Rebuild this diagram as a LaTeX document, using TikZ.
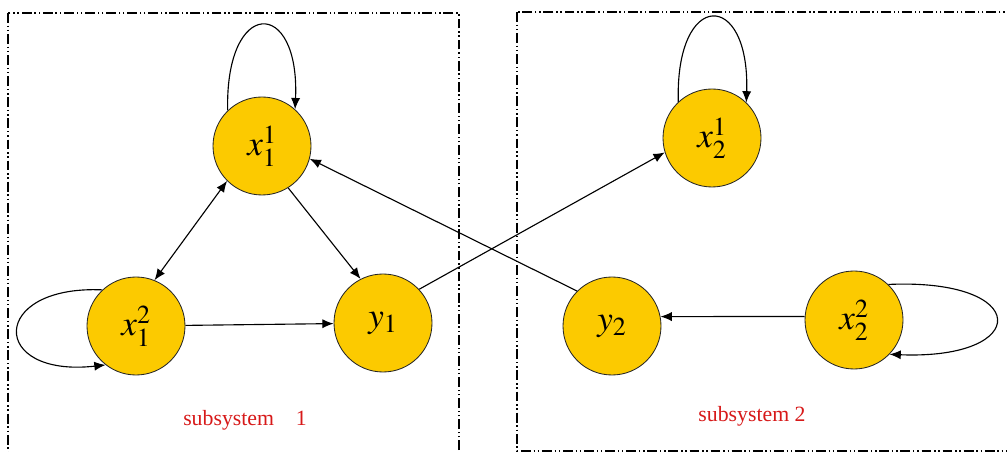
\documentclass[tikz,border=0pt]{standalone}
\usepackage{mathptmx}
\usepackage{fontspec}
\setmainfont{Liberation Serif}
\usetikzlibrary{arrows.meta}
\pgfdeclarelayer{edgelayer}
\pgfdeclarelayer{nodelayer}
\pgfsetlayers{edgelayer,nodelayer,main}
\definecolor{nodeyellow}{RGB}{252,202,0}
\definecolor{labelred}{RGB}{215,25,25}
\tikzstyle{none}=[inner sep=0pt]
\tikzstyle{state}=[circle,fill=nodeyellow,draw=black!85,line width=0.6pt,minimum size=2.45cm,inner sep=0pt,font=\fontsize{25}{27}\selectfont]
\tikzstyle{transition}=[-{Latex[length=8pt,width=6.5pt]},draw=black,line width=0.8pt]
\tikzstyle{twoway}=[{Latex[length=8pt,width=6.5pt]}-{Latex[length=8pt,width=6.5pt]},draw=black,line width=0.8pt]
\tikzstyle{syslabel}=[inner sep=0pt,text=labelred,font=\fontsize{15.5}{17}\selectfont]
\tikzstyle{subbox}=[draw=black,line width=0.9pt,dash pattern=on 7pt off 2pt on 1pt off 2pt on 1pt off 2pt]

\begin{document}
\begin{tikzpicture}
	\useasboundingbox (0,0) rectangle (25.175,-11.3);
	\begin{pgfonlayer}{nodelayer}
		\node [style=state] (0) at (6.55, -3.65) {$x_1^1$};
		\node [style=state] (1) at (3.4, -8.15) {$x_1^2$};
		\node [style=state] (2) at (9.575, -8.075) {$y_1$};
		\node [style=state] (3) at (17.8, -3.45) {$x_2^1$};
		\node [style=state] (4) at (15.3, -8.15) {$y_2$};
		\node [style=state] (5) at (21.35, -8.0) {$x_2^2$};
		\node [style=syslabel] (6) at (6.125, -10.5) {subsystem\quad 1};
		\node [style=syslabel] (7) at (18.8, -10.4) {subsystem 2};
	\end{pgfonlayer}
	\begin{pgfonlayer}{edgelayer}
		\clip (0,0) rectangle (25.175,-11.3);
		\draw [style=subbox] (0.2, -0.325) rectangle (11.475, -11.75);
		\draw [style=subbox] (12.925, -0.3) rectangle (25.6, -11.275);
		\draw [style=transition] (0.134) .. controls (5.625, 0.075) and (7.5, 0.075) .. (0.48);
		\draw [style=transition] (3.133) .. controls (16.875, 0.275) and (18.75, 0.275) .. (3.46);
		\draw [style=transition] (1.133) .. controls (-0.275, -7.125) and (-0.275, -9.45) .. (1.232);
		\draw [style=transition] (5.46) .. controls (25.8, -6.95) and (25.8, -9.0) .. (5.-44);
		\draw [style=twoway] (1.68) to (0.225);
		\draw [style=transition] (0.-58) to (2.117);
		\draw [style=transition] (1) to (2);
		\draw [style=transition] (2.43) to (3.197);
		\draw [style=transition] (4.135) to (0.-15);
		\draw [style=transition] (5.176) to (4.11);
	\end{pgfonlayer}
\end{tikzpicture}
\end{document}
